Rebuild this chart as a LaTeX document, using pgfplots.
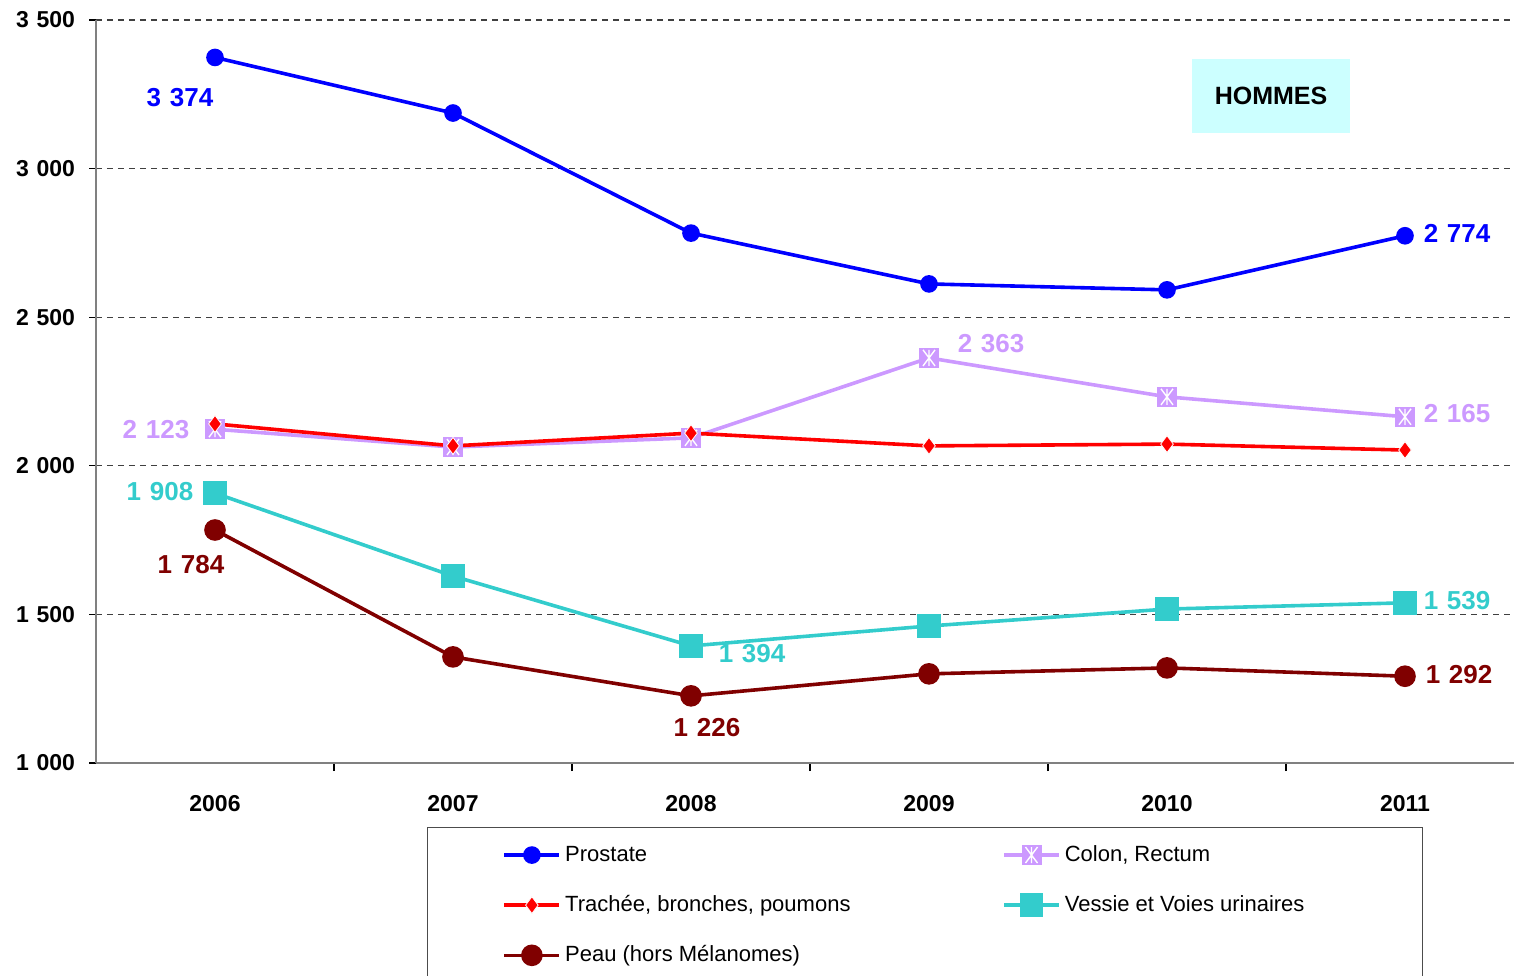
\documentclass[border=0pt]{standalone}
\usepackage{fontspec}
\setmainfont{Liberation Sans}
\usepackage{pgfplots}
\pgfplotsset{compat=1.18}
\definecolor{cprost}{HTML}{0000FF}
\definecolor{ccolon}{HTML}{CC99FF}
\definecolor{ctrach}{HTML}{FF0000}
\definecolor{cvess}{HTML}{33CCCC}
\definecolor{cpeau}{HTML}{800000}
\definecolor{chom}{HTML}{CCFFFF}
\definecolor{cspine}{HTML}{808080}
\pgfdeclareplotmark{sqstar}{%
  \pgfpathrectangle{\pgfqpoint{-\pgfplotmarksize}{-\pgfplotmarksize}}{\pgfqpoint{2\pgfplotmarksize}{2\pgfplotmarksize}}%
  \pgfusepathqfill
  \pgfsetstrokecolor{white}\pgfsetlinewidth{0.7pt}%
  \pgfpathmoveto{\pgfqpoint{0pt}{-0.8\pgfplotmarksize}}\pgfpathlineto{\pgfqpoint{0pt}{0.8\pgfplotmarksize}}%
  \pgfpathmoveto{\pgfqpoint{-0.6\pgfplotmarksize}{-0.8\pgfplotmarksize}}\pgfpathlineto{\pgfqpoint{0.6\pgfplotmarksize}{0.8\pgfplotmarksize}}%
  \pgfpathmoveto{\pgfqpoint{-0.6\pgfplotmarksize}{0.8\pgfplotmarksize}}\pgfpathlineto{\pgfqpoint{0.6\pgfplotmarksize}{-0.8\pgfplotmarksize}}%
  \pgfusepathqstroke
}
\newcommand{\vlab}{\bfseries\fontsize{13}{15}\selectfont}
\newcommand{\legw}[1]{\makebox[216.5pt][l]{#1}}
\newcommand{\legv}[1]{\makebox[139.5pt][l]{#1}}
\begin{document}
\begin{tikzpicture}
\path[use as bounding box] (-48pt,-106pt) rectangle (709pt,381.5pt);
\clip (-48pt,-106pt) rectangle (709pt,381.5pt);
\begin{axis}[
  scale only axis, width=714pt, height=371.5pt,
  xmin=2005.5, xmax=2011.5, ymin=1000, ymax=3500,
  axis x line=bottom, axis y line=left,
  axis line style={-, cspine, line width=1pt},
  tick align=outside,
  xtick={2006,2007,2008,2009,2010,2011},
  xticklabels={2006,2007,2008,2009,2010,2011},
  major x tick style={draw=none},
  minor xtick={2006.5,2007.5,2008.5,2009.5,2010.5},
  minor x tick style={draw=black, line width=0.6pt},
  minor tick length=4pt,
  x tick label style={font=\bfseries\fontsize{11.5}{13}\selectfont, anchor=center, yshift=-17pt},
  ytick={1000,1500,2000,2500,3000,3500},
  yticklabels={1\,\,000,1\,\,500,2\,\,000,2\,\,500,3\,\,000,3\,\,500},
  major y tick style={draw=black, line width=0.6pt},
  major tick length=3.5pt,
  y tick label style={font=\bfseries\fontsize{11.5}{13}\selectfont, xshift=-3.5pt},
  ymajorgrids,
  major grid style={black!75, line width=0.6pt, dash pattern=on 3pt off 2.5pt},
  legend columns=2,
  legend cell align=left,
  legend style={at={(0.2318,-0.0861)}, anchor=north west, draw=black!70, line width=0.6pt,
    font=\fontsize{11}{13}\selectfont, inner xsep=37.5pt, inner ysep=7pt, row sep=11.5pt},
  legend image code/.code={\draw[mark repeat=2,mark phase=2] plot coordinates {(0pt,0pt)(13.75pt,0pt)(27.5pt,0pt)};},
  clip=false,
]
\fill[chom] (axis cs:2010.105,3120) rectangle (axis cs:2010.769,3369);
\node[font=\bfseries\fontsize{12.5}{14}\selectfont] at (axis cs:2010.437,3245) {HOMMES};

\addplot[cprost, line width=1.8pt, mark=*, mark size=3.5pt, mark options={solid, fill=cprost}]
  coordinates {(2006,3374)(2007,3187)(2008,2783)(2009,2612)(2010,2592)(2011,2774)};
\addlegendentry{\legw{Prostate}}
\addplot[ccolon, line width=1.8pt, mark=sqstar, mark size=5pt, mark options={solid, fill=ccolon}]
  coordinates {(2006,2123)(2007,2063)(2008,2094)(2009,2363)(2010,2232)(2011,2165)};
\addlegendentry{\legv{Colon, Rectum}}
\addplot[ctrach, line width=1.8pt, mark=diamond*, mark size=4.2pt, mark options={solid, fill=ctrach, draw=white, line width=0.4pt}]
  coordinates {(2006,2141)(2007,2067)(2008,2110)(2009,2067)(2010,2073)(2011,2053)};
\addlegendentry{\legw{Trachée, bronches, poumons}}
\addplot[cvess, line width=1.8pt, mark=square*, mark size=5pt, mark options={solid, fill=cvess}]
  coordinates {(2006,1908)(2007,1629)(2008,1394)(2009,1461)(2010,1518)(2011,1539)};
\addlegendentry{\legv{Vessie et Voies urinaires}}
\addplot[cpeau, line width=1.8pt, mark=*, mark size=4.5pt, mark options={solid, fill=cpeau}]
  coordinates {(2006,1784)(2007,1357)(2008,1226)(2009,1300)(2010,1320)(2011,1292)};
\addlegendentry{\legw{Peau (hors Mélanomes)}}

\node[cprost, font=\vlab, xshift=-17.5pt, yshift=-20pt] at (axis cs:2006,3374) {3\,\,374};
\node[cprost, font=\vlab, xshift=26pt, yshift=1pt] at (axis cs:2011,2774) {2\,\,774};
\node[ccolon, font=\vlab, xshift=31pt, yshift=7pt] at (axis cs:2009,2363) {2\,\,363};
\node[ccolon, font=\vlab, xshift=-29.5pt] at (axis cs:2006,2123) {2\,\,123};
\node[ccolon, font=\vlab, xshift=26pt, yshift=1.5pt] at (axis cs:2011,2165) {2\,\,165};
\node[cvess, font=\vlab, xshift=-27.5pt, yshift=1pt] at (axis cs:2006,1908) {1\,\,908};
\node[cvess, font=\vlab, xshift=30.5pt, yshift=-4pt] at (axis cs:2008,1394) {1\,\,394};
\node[cvess, font=\vlab, xshift=26pt, yshift=1pt] at (axis cs:2011,1539) {1\,\,539};
\node[cpeau, font=\vlab, xshift=-12pt, yshift=-17.5pt] at (axis cs:2006,1784) {1\,\,784};
\node[cpeau, font=\vlab, xshift=8pt, yshift=-16pt] at (axis cs:2008,1226) {1\,\,226};
\node[cpeau, font=\vlab, xshift=27pt, yshift=1pt] at (axis cs:2011,1292) {1\,\,292};
\end{axis}
\end{tikzpicture}
\end{document}
